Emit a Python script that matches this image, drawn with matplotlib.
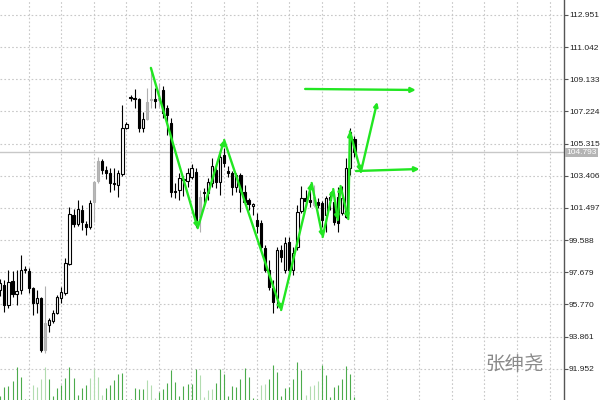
import numpy as np
import matplotlib.pyplot as plt

# candles (one per bar, left to right)
opens = [96.63, 96.93, 95.74, 97.16, 96.39, 96.63, 97.82, 97.76, 96.75, 95.85,
         96.16, 93.07, 94.55, 94.79, 95.26, 96.16, 96.45, 98.17, 101.08, 100.55,
         101.38, 100.55, 100.37, 101.85, 103.10, 104.29, 103.75, 103.57, 102.98, 102.86,
         103.51, 106.24, 108.08, 108.03, 107.97, 106.24, 106.78, 107.91, 107.97, 107.91,
         108.50, 107.43, 106.54, 102.50, 102.56, 103.22, 103.10, 103.34, 103.63, 100.96,
         102.45, 102.39, 102.98, 103.75, 103.04, 104.64, 103.69, 103.57, 102.74, 103.46,
         102.45, 101.97, 101.62, 100.78, 100.61, 99.12, 97.82, 96.75, 96.16, 99.00,
         97.82, 99.48, 97.82, 99.18, 101.32, 102.09, 101.97, 101.67, 101.85, 101.79,
         101.08, 102.15, 101.85, 102.15, 101.20, 100.96, 103.87, 105.59]
highs = [97.28, 97.22, 97.82, 97.76, 97.82, 98.71, 98.05, 97.93, 96.81, 96.63,
         96.21, 96.87, 94.97, 95.44, 96.33, 96.81, 98.53, 101.56, 101.44, 101.97,
         101.67, 100.72, 101.97, 103.10, 104.52, 104.40, 103.99, 103.87, 103.87, 103.75,
         107.61, 106.60, 108.20, 108.56, 108.03, 107.19, 108.62, 109.81, 108.62, 108.91,
         108.74, 107.61, 106.84, 102.98, 103.57, 103.40, 103.87, 104.11, 103.87, 102.56,
         102.68, 103.28, 104.46, 104.05, 104.94, 105.06, 103.99, 103.69, 103.57, 103.57,
         102.86, 102.09, 101.79, 101.20, 100.78, 99.30, 98.41, 97.22, 99.18, 99.30,
         99.77, 99.77, 99.18, 101.67, 102.80, 102.56, 102.92, 102.86, 102.09, 101.91,
         102.21, 102.45, 102.39, 102.74, 102.80, 104.46, 106.24, 105.77]
lows = [96.27, 95.32, 95.56, 96.21, 95.74, 96.39, 97.64, 96.45, 95.15, 95.26,
        92.95, 92.89, 94.14, 94.67, 95.21, 95.85, 96.33, 98.11, 100.37, 100.43,
        100.19, 99.89, 100.25, 100.66, 102.98, 103.51, 103.22, 102.45, 102.56, 102.15,
        103.40, 106.18, 107.85, 107.43, 106.01, 106.01, 106.72, 107.43, 107.43, 107.49,
        106.84, 105.83, 102.15, 102.09, 101.97, 102.21, 102.74, 103.22, 100.37, 100.07,
        101.67, 101.97, 102.74, 102.68, 102.27, 103.93, 103.34, 102.27, 102.45, 101.26,
        101.67, 101.38, 101.08, 100.01, 99.00, 97.70, 96.63, 95.26, 95.56, 98.29,
        97.64, 97.70, 97.52, 99.00, 101.20, 101.62, 101.56, 101.56, 101.50, 100.37,
        100.07, 101.38, 100.49, 100.07, 101.08, 100.90, 103.46, 104.52]
closes = [97.05, 95.74, 97.10, 96.39, 96.57, 97.82, 97.87, 96.75, 95.85, 96.16,
          93.07, 94.67, 94.85, 95.26, 96.21, 96.51, 98.23, 101.14, 100.55, 101.44,
          100.66, 100.37, 101.79, 103.04, 104.29, 103.75, 103.57, 102.98, 102.92, 103.57,
          106.24, 106.48, 108.03, 107.97, 106.24, 106.78, 107.79, 107.97, 107.85, 108.03,
          107.13, 107.02, 102.45, 102.45, 103.28, 103.16, 103.57, 103.87, 100.66, 102.15,
          102.39, 103.04, 103.99, 103.04, 104.52, 104.17, 103.57, 102.74, 103.46, 102.45,
          101.85, 101.73, 101.73, 100.43, 99.18, 97.82, 96.81, 95.92, 99.00, 98.59,
          99.42, 97.82, 98.82, 101.26, 102.09, 101.91, 101.85, 102.15, 101.67, 100.78,
          102.09, 101.97, 100.66, 100.61, 102.09, 103.87, 106.01, 104.79]
gray_bars = [11, 23, 24, 36, 37, 39, 49, 77]

volumes = [12, 39, 43, 57, 99, 68, 3, 3, 45, 38, 62, 99, 63, 12, 35, 45,
           66, 99, 66, 15, 35, 45, 66, 93, 69, 15, 35, 45, 60, 78, 81, 3,
           3, 36, 33, 33, 60, 45, 6, 24, 33, 50, 90, 54, 12, 42, 47, 48,
           93, 76, 9, 30, 32, 51, 93, 78, 12, 42, 39, 63, 96, 69, 6, 3,
           45, 48, 63, 105, 83, 12, 36, 39, 63, 114, 90, 15, 42, 45, 57, 105,
           76, 9, 39, 45, 63, 102, 79, 9]
light_volume = [8, 9, 10, 11, 22, 23, 24, 25, 36, 37, 38, 49, 50, 51, 52,
                64, 65, 75, 76, 77, 78]

# hand drawn arrows (bar index, price)
zigzag_bar = [37, 48.5, 55, 69, 76.5, 79.2, 81.8, 82.9, 83.6, 85.5, 85.9, 88.6, 92.6]
zigzag_price = [109.81, 100.30, 105.53, 95.44, 102.98, 99.77, 102.62, 100.78,
                102.80, 100.84, 106.04, 103.64, 107.79]
upper_arrow_bar = [74.9, 102.1]
upper_arrow_price = [108.56, 108.50]
lower_arrow_bar = [87.4, 103.0]
lower_arrow_price = [103.69, 103.81]

ytick_labels = ['112.951', '111.042', '109.133', '107.224', '105.315', '103.406',
                '101.497', '99.588', '97.679', '95.770', '93.861', '91.952']
last_price = '104.793'

GREEN = '#22e622'
LABEL_FONT = ['Liberation Sans', 'DejaVu Sans']

fig = plt.figure(figsize=(6, 4), dpi=100)
ax = fig.add_axes([0, 0, 564 / 600, 1])

# volume bars at the bottom (twin axis, hidden)
vax = ax.twinx()
vax.set_ylim(0, 1200)
vax.axis('off')
idx = np.arange(len(volumes))
vcol = ['#b2dcb0' if i in light_volume else '#4cab4c' for i in idx]
vax.vlines(idx, 0, volumes, colors=vcol, lw=0.8)

ax.set_xlim(-0.074, 138.5)
ax.set_ylim(90.10, 113.84)

for s in ['top', 'left', 'bottom']:
    ax.spines[s].set_visible(False)
ax.spines['right'].set_visible(True)
ax.spines['right'].set_color('#555555')
ax.spines['right'].set_linewidth(1)

yt = [float(t) for t in ytick_labels]
ax.set_yticks(yt)
ax.set_yticklabels(ytick_labels, family=LABEL_FONT)
ax.yaxis.tick_right()
ax.tick_params(axis='y', which='both', left=False, labelleft=False,
               right=True, labelright=True, length=3, width=0.8,
               color='#555555', pad=0.5, labelsize=6, labelcolor='#222222')
ax.set_xticks(np.arange(6.95, 139, 8))
ax.tick_params(axis='x', length=0, labelbottom=False)
ax.grid(True, color='#c8c8c8', linestyle=(0, (1.5, 2)), linewidth=0.8)
ax.set_axisbelow(True)

ax.axhline(float(last_price), color='#c8c8c8', lw=1, zorder=1)

# candles
for i in range(len(opens)):
    o, h, l, c = opens[i], highs[i], lows[i], closes[i]
    if i in gray_bars:
        edge, fill = '#b0b0b0', '#b8b8b8'
    else:
        edge = 'black'
        fill = 'white' if c >= o else 'black'
    ax.vlines(i, l, h, color=edge, lw=0.8, zorder=3)
    bottom = min(o, c)
    height = max(abs(c - o), 0.02)
    ax.bar(i, height, bottom=bottom, width=0.55, color=fill,
           edgecolor=edge, linewidth=0.8, zorder=4)

# zigzag arrows
for k in range(len(zigzag_bar) - 1):
    ax.annotate('', xy=(zigzag_bar[k + 1], zigzag_price[k + 1]),
                xytext=(zigzag_bar[k], zigzag_price[k]),
                arrowprops=dict(arrowstyle='-|>', color=GREEN, lw=1.7,
                                mutation_scale=6, shrinkA=0, shrinkB=0),
                zorder=6)
for bx, py in [(upper_arrow_bar, upper_arrow_price),
               (lower_arrow_bar, lower_arrow_price)]:
    ax.annotate('', xy=(bx[1], py[1]), xytext=(bx[0], py[0]),
                arrowprops=dict(arrowstyle='-|>', color=GREEN, lw=1.7,
                                mutation_scale=7, shrinkA=0, shrinkB=0),
                zorder=6)

# current price label
ax.text(1.004, float(last_price), last_price, transform=ax.get_yaxis_transform(),
        ha='left', va='center', fontsize=6, color='white', family=LABEL_FONT,
        bbox=dict(facecolor='#b4b4b4', edgecolor='none', pad=1.0), zorder=10)

ax.text(515 / 564, 0.088, '张绅尧', transform=ax.transAxes, ha='center',
        va='center', fontsize=14, color='#8a8a8a',
        family=['Noto Sans CJK SC', 'DejaVu Sans'])

fig.savefig('out.png', dpi=100)
